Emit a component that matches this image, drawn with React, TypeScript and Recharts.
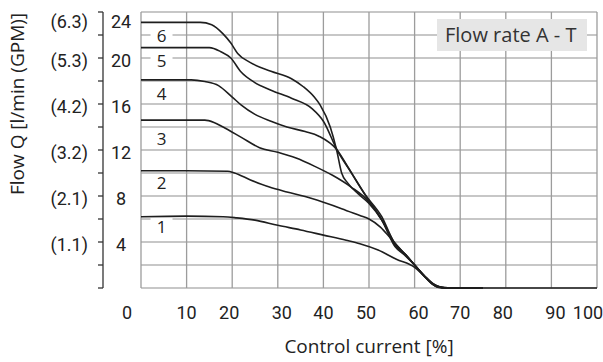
import React from 'react';
import { LineChart, Line, XAxis, YAxis, CartesianGrid, ReferenceDot, Label } from 'recharts';

type Pt = [number, number];

// control current [%] -> flow [l/min]
const curve1: Pt[] = [
  [0, 6.2], [10, 6.25], [18, 6.2], [21, 6.1], [25, 5.9], [30, 5.45], [35, 5.05], [40, 4.6],
  [45, 4.15], [48, 3.85], [52, 3.3], [56, 2.5], [60, 1.8], [62, 1.1], [64, 0.4], [66, 0.05], [68, 0], [75, 0],
];
const curve2: Pt[] = [
  [0, 10.2], [10, 10.2], [19, 10.15], [20.5, 10.0], [24, 9.4], [28, 8.8], [32, 8.35], [36, 7.95],
  [40, 7.45], [44, 6.9], [48, 6.3], [50, 6.0], [52.5, 5.3], [55, 4.2], [57.5, 3.1], [60, 2.0],
  [62, 1.1], [64, 0.35], [66, 0.05], [68, 0], [75, 0],
];
const curve3: Pt[] = [
  [0, 14.6], [10, 14.6], [14, 14.6], [16, 14.4], [18, 14.0], [22, 13.1], [26, 12.2], [30, 11.8],
  [34, 11.3], [38, 10.6], [42, 9.8], [46, 8.8], [50, 7.5], [53, 5.8], [55.5, 4.0], [58, 2.9],
  [60, 2.0], [62, 1.1], [64, 0.35], [66, 0.05], [68, 0], [75, 0],
];
const curve4: Pt[] = [
  [0, 18.1], [11, 18.1], [14, 17.95], [17, 17.6], [20, 16.6], [22, 15.9], [25, 15.1], [28.5, 14.5],
  [32, 14.0], [36, 13.6], [39, 13.2], [43, 12.0], [45.4, 10.5], [49, 8.2], [52.8, 6.2], [55.7, 3.8],
  [58, 2.9], [60, 2.0], [62, 1.1], [64, 0.3], [66, 0], [75, 0],
];
const curve5: Pt[] = [
  [0, 20.9], [15, 20.9], [17.5, 20.55], [19.7, 20.0], [21.9, 18.8], [24.8, 17.9], [28.5, 17.2],
  [33, 16.5], [37.5, 15.6], [40, 14.5], [43, 12.0], [46, 10.1], [49.5, 7.9], [53, 5.8], [55.7, 3.7],
  [58, 2.9], [60, 2.0], [62.5, 0.9], [65, 0.1], [68, 0], [75, 0],
];
const curve6: Pt[] = [
  [0, 23.1], [13, 23.1], [15.5, 22.9], [18, 22.1], [19.7, 21.3], [21.2, 20.4], [24, 19.6], [28.5, 18.85],
  [33, 18.2], [35.6, 17.5], [38, 16.6], [39.3, 15.9], [41.5, 14.0], [42.9, 12.0], [44, 10.0],
  [45.4, 9.1], [47.6, 8.2], [49.9, 7.4], [52.8, 5.9], [55.7, 3.6], [58, 2.8], [60, 2.0],
  [62.5, 0.9], [65, 0.1], [68, 0], [100, 0],
];

const curves = [curve1, curve2, curve3, curve4, curve5, curve6];
const curveNames = ['1', '2', '3', '4', '5', '6'];
const curveLabelAt: Pt[] = [[4.5, 5.3], [4.5, 9.1], [4.5, 12.95], [4.5, 16.85], [4.5, 19.7], [4.5, 21.95]];

const xTicks = [0, 10, 20, 30, 40, 50, 60, 70, 80, 90, 100];
const yTicks = [0, 2, 4, 6, 8, 10, 12, 14, 16, 18, 20, 22, 24];
const lpmTicks = [4, 8, 12, 16, 20, 24];
const gpmTicks = ['(1.1)', '(2.1)', '(3.2)', '(4.2)', '(5.3)', '(6.3)'];

// the printed tick labels are not quite centred on the grid lines
const xTickNudge: Record<number, number> = { 0: -14, 20: -3, 30: 4, 50: -3, 60: 4, 80: -3, 90: 4, 100: -9 };

const numFont = "Roboto, 'Liberation Sans', sans-serif";
const textFont = "'Open Sans', 'Noto Sans', sans-serif";
const ink = '#222';

const XTick = (props: any) => {
  const { x, y, payload } = props;
  return (
    <text x={x + (xTickNudge[payload.value] || 0)} y={y + 31} textAnchor="middle"
      fontFamily={numFont} fontSize={18} fill={ink}>
      {payload.value}
    </text>
  );
};

const YTick = (props: any) => {
  const { x, y, payload } = props;
  const i = lpmTicks.indexOf(payload.value);
  if (i < 0) return <g />;
  const dy = payload.value === 24 ? 16 : 9;
  return (
    <g fontFamily={numFont} fontSize={18} fill={ink}>
      <text x={x + 23} y={y + dy} textAnchor="middle">{payload.value}</text>
      <text x={x - 10} y={y + dy} textAnchor="end">{gpmTicks[i]}</text>
    </g>
  );
};

const YTitle = (props: any) => {
  const vb = props.viewBox || { x: 0, y: 12, width: 103, height: 276 };
  const cx = vb.x + 24;
  const cy = vb.y + vb.height / 2 - 46;
  return (
    <text transform={`translate(${cx},${cy}) rotate(-90)`} textAnchor="middle"
      fontFamily={textFont} fontSize={19} fill={ink}>
      Flow Q [l/min (GPM)]
    </text>
  );
};

export default function App() {
  return (
    <div style={{ position: 'absolute', left: 0, top: 0, width: 603, height: 362, background: '#fff' }}>
      <LineChart width={603} height={362} margin={{ top: 12, right: 6, bottom: 0, left: 0 }}>
        <CartesianGrid yAxisId="main" vertical={false} stroke="#b4b4b4" strokeWidth={1.3} />
        <CartesianGrid yAxisId="main" horizontal={false} stroke="#9c9c9c" strokeWidth={1.3} />
        <XAxis dataKey="c" type="number" domain={[0, 100]} ticks={xTicks} height={74}
          axisLine={false} tickLine={false} tickSize={0} tickMargin={0} tick={<XTick />} interval={0}>
          <Label value="Control current [%]" position="insideBottom" offset={9}
            style={{ fontFamily: textFont, fontSize: 19, fill: ink }} />
        </XAxis>
        <YAxis yAxisId="gap" type="number" domain={[0, 24]} width={38} tick={false}
          axisLine={false} tickLine={false} />
        <YAxis yAxisId="main" type="number" domain={[0, 24]} ticks={yTicks} width={103} interval={0}
          axisLine={{ stroke: '#333', strokeWidth: 1.3 }} tickLine={{ stroke: '#333', strokeWidth: 1.3 }}
          tickSize={5} tickMargin={0} tick={<YTick />}>
          <Label content={<YTitle />} />
        </YAxis>
        {curveLabelAt.map(([c, q], i) => (
          <ReferenceDot key={'lbl' + i} yAxisId="main" x={c} y={q} r={0}
            shape={(p: any) => (
              <g>
                <rect x={p.cx - 11} y={p.cy - 9} width={22} height={17} fill="#fff" />
                <text x={p.cx} y={p.cy + 6} textAnchor="middle" fontFamily={textFont} fontSize={17} fill={ink}>
                  {curveNames[i]}
                </text>
              </g>
            )} />
        ))}
        {curves.map((pts, i) => (
          <Line key={curveNames[i]} yAxisId="main" data={pts.map(([c, q]) => ({ c, q }))} dataKey="q"
            type="monotone" stroke="#1e1e1e" strokeWidth={1.6} dot={false} activeDot={false}
            isAnimationActive={false} />
        ))}
      </LineChart>
      <div style={{
        position: 'absolute', left: 437, top: 19, width: 150, height: 32, boxSizing: 'border-box',
        paddingLeft: 8, background: '#e6e6e6', fontFamily: textFont, fontSize: 20, lineHeight: '32px',
        color: '#333', whiteSpace: 'nowrap',
      }}>
        Flow rate A - T
      </div>
    </div>
  );
}
